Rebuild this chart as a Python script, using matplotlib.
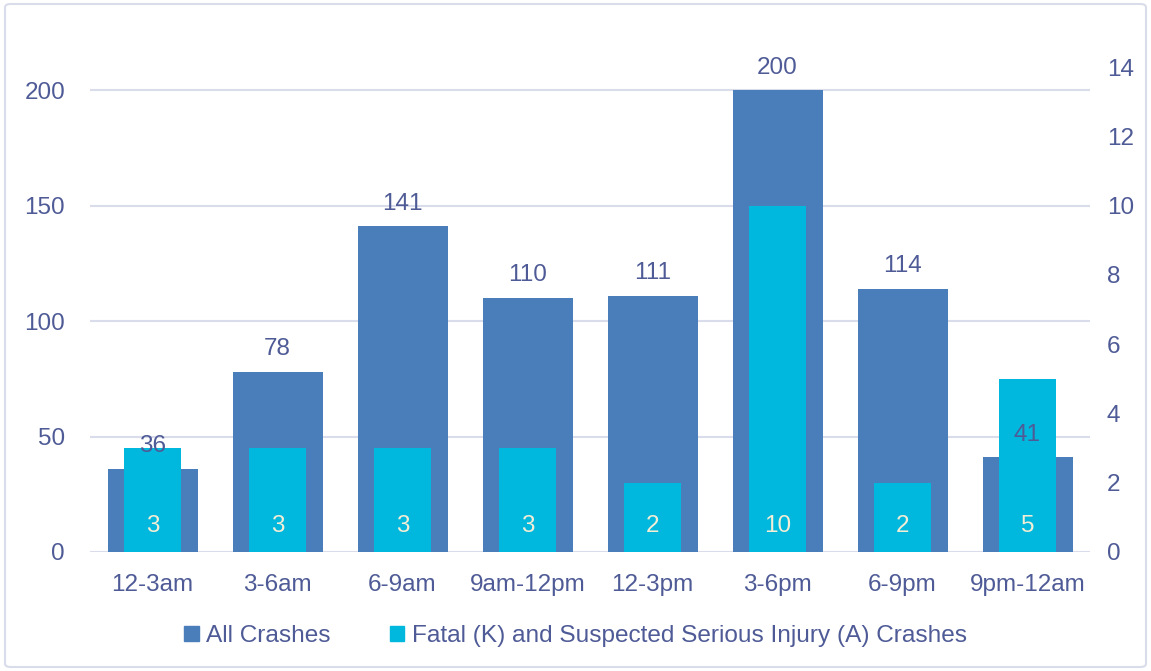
import matplotlib
matplotlib.use("Agg")
import matplotlib.pyplot as plt
from matplotlib.patches import FancyBboxPatch, Patch
import numpy as np

categories = ["12-3am", "3-6am", "6-9am", "9am-12pm", "12-3pm", "3-6pm", "6-9pm", "9pm-12am"]
all_crashes = [36, 78, 141, 110, 111, 200, 114, 41]
ka_crashes = [3, 3, 3, 3, 2, 10, 2, 5]
left_ticks = [0, 50, 100, 150, 200]
right_ticks = [0, 2, 4, 6, 8, 10, 12, 14]

plt.rcParams['font.family'] = ['Liberation Sans', 'DejaVu Sans']
TXT = '#4f5b96'
DARK = '#4a7ebb'
LIGHT = '#00b8de'
GRID = '#d9dcea'
FS = 17.5

W, H = 1151, 671
fig = plt.figure(figsize=(W / 100, H / 100), dpi=100)
fig.patches.append(FancyBboxPatch((5 / W, 4 / H), 1 - 10 / W, 1 - 8 / H,
                                  boxstyle="round,pad=0,rounding_size=0.005",
                                  transform=fig.transFigure, fill=False,
                                  edgecolor='#d9dcea', linewidth=1.5))

ax = fig.add_axes([90 / W, 1 - 552 / H, 1000 / W, (552 - 67) / H])
ax2 = ax.twinx()

x = np.arange(len(categories))
ax.bar(x, all_crashes, width=0.72, color=DARK, zorder=2)
ax2.bar(x, ka_crashes, width=0.45, color=LIGHT, zorder=3)

ax.set_ylim(0, 210)
ax2.set_ylim(0, 14)
ax.set_xlim(-0.5, len(categories) - 0.5)
ax.set_yticks(left_ticks)
ax2.set_yticks(right_ticks)
ax.set_xticks(x)
ax.set_xticklabels(categories)

for a in (ax, ax2):
    for s in a.spines.values():
        s.set_visible(False)
    a.tick_params(length=0, colors=TXT, labelsize=FS)
ax.tick_params(axis='y', pad=18)
ax2.tick_params(axis='y', pad=12)
ax.tick_params(axis='x', pad=16)

ax.grid(axis='y', color=GRID, linewidth=1.5, zorder=0)
ax.set_axisbelow(True)

# labels for all crashes drawn on top of everything (on ax2, using ax data coords)
for xi, v in zip(x, all_crashes):
    ax2.text(xi, v + 5, str(v), ha='center', va='bottom', color=TXT, fontsize=FS,
             zorder=10, transform=ax.transData)
for xi, v in zip(x, ka_crashes):
    ax2.text(xi, 0.75, str(v), ha='center', va='center', color='#f3eed6', fontsize=FS, zorder=10)

handles = [Patch(color=DARK, label='All Crashes'),
           Patch(color=LIGHT, label='Fatal (K) and Suspected Serious Injury (A) Crashes')]
leg = fig.legend(handles=handles, loc='center', bbox_to_anchor=(0.5, 1 - 636 / H), ncol=2,
                 frameon=False, fontsize=17.6, handlelength=0.6, handleheight=0.6,
                 handletextpad=0.3, columnspacing=2.4)
for t in leg.get_texts():
    t.set_color(TXT)

fig.savefig('out.png', dpi=100)
